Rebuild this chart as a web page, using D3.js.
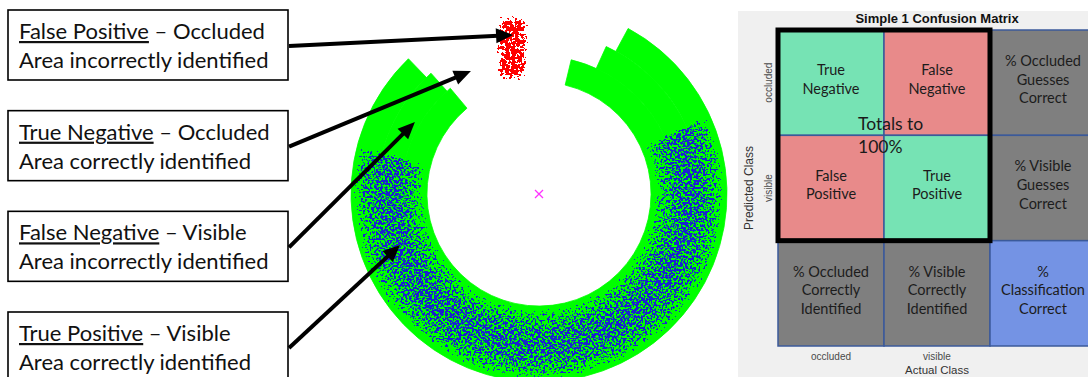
<!DOCTYPE html>
<html>
<head>
<meta charset="utf-8">
<script src="https://cdn.jsdelivr.net/npm/d3@7"></script>
<style>
  html, body { margin: 0; padding: 0; background: #ffffff; }
  svg { display: block; }
</style>
</head>
<body>
<svg id="fig" width="1088" height="377"></svg>
<script>
// ---------------- data ----------------
// callout boxes on the left
const calloutTitles   = ["False Positive", "True Negative", "False Negative", "True Positive"];
const calloutClasses  = ["Occluded", "Occluded", "Visible", "Visible"];
const calloutVerdicts = ["Area incorrectly identified", "Area correctly identified",
                         "Area incorrectly identified", "Area correctly identified"];
// where each callout arrow points, in ring units (x right, y up, outer radius = 1)
const arrowTargetX = [-0.138, -0.362, -0.660, -0.739];
const arrowTargetY = [ 0.846,  0.654,  0.383, -0.271];

// ground-truth visible area: three concentric bands (radius in ring units),
// angles in degrees clockwise from 12 o'clock
const bandRadii    = [0.596, 0.734, 0.862, 1.000];
const bandStartDeg = [13.5, 24.5, 28.3];
const bandEndDeg   = [320.0, 318.2, 316.0];

// predictions labelled "visible" (blue cloud): angular span and radial profile
const visibleCloudDeg    = [64.5, 285.5];
const visibleCloudRadius = [0.596, 1.000];
const visibleDensityR    = [0.596, 0.65, 0.73, 0.80, 0.87, 0.95, 1.00];
const visibleDensityV    = [0.58,  0.80, 0.94, 1.00, 0.94, 0.80, 0.58];
// predictions labelled "occluded" (red cloud), ring units
const occludedCloudX = [-0.230, -0.055];
const occludedCloudY = [ 0.600,  0.950];

// confusion matrix
const matrixTitle     = "Simple 1 Confusion Matrix";
const predictedLabels = ["occluded", "visible"];
const actualLabels    = ["occluded", "visible"];
const cellLabels = [
  [["True", "Negative"], ["False", "Negative"], ["% Occluded", "Guesses", "Correct"]],
  [["False", "Positive"], ["True", "Positive"], ["% Visible", "Guesses", "Correct"]],
  [["% Occluded", "Correctly", "Identified"], ["% Visible", "Correctly", "Identified"], ["%", "Classification", "Correct"]]
];
const cellKinds = [
  ["correct", "wrong", "summary"],
  ["wrong", "correct", "summary"],
  ["summary", "summary", "overall"]
];
const totalsNote = ["Totals to", "100%"];

// ---------------- drawing ----------------
const svg = d3.select("#fig");
const defs = svg.append("defs");
const textFont = "Lato, 'Open Sans', 'DejaVu Sans', sans-serif";
const axisFont = "'Liberation Sans', Arial, sans-serif";

// ring geometry
const cx = 539, cy = 194, R = 188;
const rScale = d3.scaleLinear().domain([0, 1]).range([0, R]);
const xRing = d3.scaleLinear().domain([-1, 1]).range([cx - R, cx + R]);
const yRing = d3.scaleLinear().domain([-1, 1]).range([cy + R, cy - R]);
const angle = d3.scaleLinear().domain([0, 360]).range([0, 2 * Math.PI]);

const bands = bandStartDeg.map((s, i) => ({
  inner: bandRadii[i], outer: bandRadii[i + 1], start: s, end: bandEndDeg[i]
}));
const arc = d3.arc()
  .innerRadius(d => rScale(d.inner))
  .outerRadius(d => rScale(d.outer))
  .startAngle(d => angle(d.start))
  .endAngle(d => angle(d.end));

svg.append("g")
  .attr("transform", `translate(${cx},${cy})`)
  .selectAll("path")
  .data(bands)
  .join("path")
  .attr("d", arc)
  .attr("fill", "#00ff00")
  .attr("stroke", "#00ff00")
  .attr("stroke-width", 0.8);

defs.append("clipPath").attr("id", "ringClip")
  .selectAll("path")
  .data(bands)
  .join("path")
  .attr("transform", `translate(${cx},${cy})`)
  .attr("d", arc);

// speckle filter: noise thresholded against the shape's alpha, so the
// density of dots follows the opacity of the shape being filtered
function speckleFilter(id, freq, seed, threshold, color, blur, region) {
  const f = defs.append("filter").attr("id", id)
    .attr("color-interpolation-filters", "sRGB")
    .attr("x", region[0]).attr("y", region[1])
    .attr("width", region[2]).attr("height", region[3]);
  f.append("feGaussianBlur").attr("in", "SourceGraphic")
    .attr("stdDeviation", blur).attr("result", "dens");
  f.append("feTurbulence").attr("type", "fractalNoise")
    .attr("baseFrequency", freq).attr("numOctaves", 2)
    .attr("seed", seed).attr("result", "noise");
  f.append("feColorMatrix").attr("in", "noise").attr("type", "matrix")
    .attr("values", "0 0 0 0 0  0 0 0 0 0  0 0 0 0 0  1 0 0 0 0")
    .attr("result", "na");
  f.append("feComposite").attr("in", "na").attr("in2", "dens")
    .attr("operator", "arithmetic")
    .attr("k1", 1).attr("k2", 0).attr("k3", 0).attr("k4", 0)
    .attr("result", "prod");
  const steps = 50;
  const table = d3.range(steps).map(i => (i / steps >= threshold ? 1 : 0)).join(" ");
  f.append("feComponentTransfer").attr("in", "prod").attr("result", "dots")
    .append("feFuncA").attr("type", "discrete").attr("tableValues", table);
  f.append("feFlood").attr("flood-color", color).attr("result", "col");
  f.append("feComposite").attr("in", "col").attr("in2", "dots").attr("operator", "in");
}
speckleFilter("speckBlue", 0.45, 7, 0.46, "#1a26cc", 3, ["-10%", "-10%", "120%", "120%"]);
speckleFilter("speckRed", 0.32, 3, 0.4, "#ff0000", 6, ["-120%", "-50%", "340%", "200%"]);

// radial density of the blue cloud
const visGrad = defs.append("radialGradient").attr("id", "visDensity")
  .attr("gradientUnits", "userSpaceOnUse")
  .attr("cx", 0).attr("cy", 0).attr("r", R);
visGrad.selectAll("stop")
  .data(visibleDensityR.map((r, i) => ({ r, v: visibleDensityV[i] })))
  .join("stop")
  .attr("offset", d => d.r)
  .attr("stop-color", "#000")
  .attr("stop-opacity", d => d.v);

const clouds = svg.append("g").attr("clip-path", "url(#ringClip)");
clouds.append("path")
  .attr("transform", `translate(${cx},${cy})`)
  .attr("d", arc({
    inner: visibleCloudRadius[0], outer: visibleCloudRadius[1],
    start: visibleCloudDeg[0], end: visibleCloudDeg[1]
  }))
  .attr("fill", "url(#visDensity)")
  .attr("filter", "url(#speckBlue)");

svg.append("rect")
  .attr("x", xRing(occludedCloudX[0]))
  .attr("y", yRing(occludedCloudY[1]))
  .attr("width", xRing(occludedCloudX[1]) - xRing(occludedCloudX[0]))
  .attr("height", yRing(occludedCloudY[0]) - yRing(occludedCloudY[1]))
  .attr("fill", "#000")
  .attr("filter", "url(#speckRed)");

// ring centre marker
const mk = 4;
svg.append("path")
  .attr("d", `M${cx - mk},${cy - mk}L${cx + mk},${cy + mk}M${cx - mk},${cy + mk}L${cx + mk},${cy - mk}`)
  .attr("stroke", "#ff33ff").attr("stroke-width", 1.3).attr("fill", "none");

// ---------------- callouts ----------------
const boxX = 8, boxW = 280, boxH = 70;
const boxTop = d3.scaleLinear().domain([0, calloutTitles.length - 1]).range([10, 312]);
const callouts = svg.append("g").selectAll("g")
  .data(calloutTitles.map((t, i) => ({ t, c: calloutClasses[i], v: calloutVerdicts[i], i })))
  .join("g")
  .attr("transform", d => `translate(${boxX},${boxTop(d.i)})`);
callouts.append("rect")
  .attr("width", boxW).attr("height", boxH)
  .attr("fill", "#fff").attr("stroke", "#000").attr("stroke-width", 1.6);
const line1 = callouts.append("text")
  .attr("x", 11).attr("y", 29)
  .attr("font-family", textFont).attr("font-size", 22).attr("fill", "#111");
line1.append("tspan").style("text-decoration", "underline").text(d => d.t);
line1.append("tspan").text(d => " \u2013 " + d.c);
callouts.append("text")
  .attr("x", 11).attr("y", 58)
  .attr("font-family", textFont).attr("font-size", 22).attr("fill", "#111")
  .text(d => d.v);

// arrows
const head = 17, halfW = 7.5;
const arrows = svg.append("g");
calloutTitles.forEach((t, i) => {
  const x0 = boxX + boxW + 1, y0 = boxTop(i) + 36;
  const x1 = xRing(arrowTargetX[i]), y1 = yRing(arrowTargetY[i]);
  const dx = x1 - x0, dy = y1 - y0, L = Math.hypot(dx, dy);
  const ux = dx / L, uy = dy / L;
  const bx = x1 - ux * head, by = y1 - uy * head;
  arrows.append("line")
    .attr("x1", x0).attr("y1", y0).attr("x2", bx + ux * 2).attr("y2", by + uy * 2)
    .attr("stroke", "#000").attr("stroke-width", 4);
  arrows.append("path")
    .attr("d", `M${x1},${y1}L${bx - uy * halfW},${by + ux * halfW}L${bx + uy * halfW},${by - ux * halfW}Z`)
    .attr("fill", "#000");
});

// ---------------- confusion matrix ----------------
svg.append("rect")
  .attr("x", 738).attr("y", 11).attr("width", 350).attr("height", 366)
  .attr("fill", "#f0f0f0");

svg.append("text")
  .attr("x", 937).attr("y", 23)
  .attr("text-anchor", "middle")
  .attr("font-family", axisFont).attr("font-size", 13).attr("font-weight", "bold")
  .attr("fill", "#111")
  .text(matrixTitle);

const colX = d3.scaleBand().domain([0, 1, 2]).range([778, 1096]);
const rowY = d3.scaleBand().domain([0, 1, 2]).range([30, 346]);
const kindFill = { correct: "#76e3b4", wrong: "#e88a8a", summary: "#7f7f7f", overall: "#7493e4" };

const cells = [];
cellLabels.forEach((row, r) => row.forEach((lines, c) => cells.push({ r, c, lines, kind: cellKinds[r][c] })));

const cellG = svg.append("g").selectAll("g")
  .data(cells)
  .join("g")
  .attr("transform", d => `translate(${colX(d.c)},${rowY(d.r)})`);
cellG.append("rect")
  .attr("width", colX.bandwidth()).attr("height", rowY.bandwidth())
  .attr("fill", d => kindFill[d.kind])
  .attr("stroke", "#3b5a9a").attr("stroke-width", 1.5);
const lh = 18.7;
cellG.append("text")
  .attr("text-anchor", "middle")
  .attr("font-family", textFont).attr("font-size", 14.5).attr("fill", "#1c1c1c")
  .selectAll("tspan")
  .data(d => d.lines.map((s, k) => ({ s, k, n: d.lines.length })))
  .join("tspan")
  .attr("x", colX.bandwidth() / 2)
  .attr("y", d => rowY.bandwidth() / 2 + (d.k - (d.n - 1) / 2) * lh + 2)
  .text(d => d.s);

// outline of the 2x2 block
svg.append("rect")
  .attr("x", colX(0)).attr("y", rowY(0))
  .attr("width", colX.bandwidth() * 2).attr("height", rowY.bandwidth() * 2)
  .attr("fill", "none").attr("stroke", "#000").attr("stroke-width", 5);

// note across the 2x2 block
const midX = colX(1), midY = rowY(1);
svg.append("text")
  .attr("font-family", textFont).attr("font-size", 17.5).attr("fill", "#1a1a1a")
  .selectAll("tspan")
  .data(totalsNote)
  .join("tspan")
  .attr("x", midX - 26)
  .attr("y", (d, i) => midY - 5 + i * 23)
  .text(d => d);

// axis tick labels and titles
svg.append("g").selectAll("text")
  .data(predictedLabels)
  .join("text")
  .attr("transform", (d, i) => `translate(772,${rowY(i) + rowY.bandwidth() / 2}) rotate(-90)`)
  .attr("text-anchor", "middle")
  .attr("font-family", axisFont).attr("font-size", 10).attr("fill", "#4a4a4a")
  .text(d => d);
svg.append("g").selectAll("text")
  .data(actualLabels)
  .join("text")
  .attr("x", (d, i) => colX(i) + colX.bandwidth() / 2)
  .attr("y", 360)
  .attr("text-anchor", "middle")
  .attr("font-family", axisFont).attr("font-size", 10).attr("fill", "#4a4a4a")
  .text(d => d);
svg.append("text")
  .attr("transform", `translate(753,${rowY(1) + rowY.bandwidth() / 2}) rotate(-90)`)
  .attr("text-anchor", "middle")
  .attr("font-family", axisFont).attr("font-size", 12).attr("fill", "#333")
  .text("Predicted Class");
svg.append("text")
  .attr("x", colX(1) + colX.bandwidth() / 2).attr("y", 374)
  .attr("text-anchor", "middle")
  .attr("font-family", axisFont).attr("font-size", 11.5).attr("fill", "#333")
  .text("Actual Class");
</script>
</body>
</html>
